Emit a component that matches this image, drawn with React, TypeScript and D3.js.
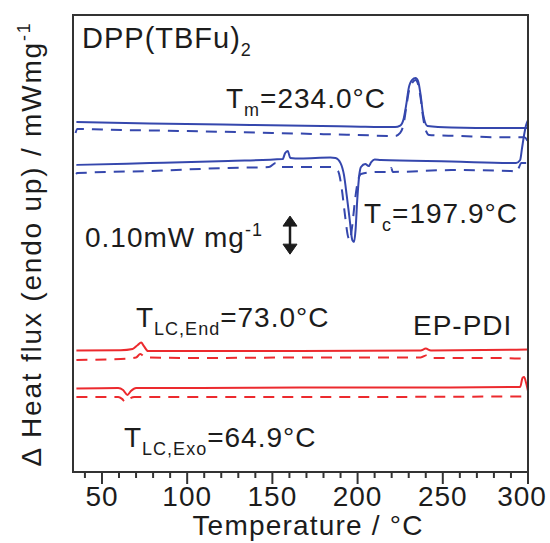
import * as d3 from 'd3';

// temperature axis
const tempTicks = [50, 100, 150, 200, 250, 300];
const minorTicks = [40, 60, 70, 80, 90, 110, 120, 130, 140, 160, 170, 180, 190, 210, 220, 230, 240, 260, 270, 280, 290];

// DPP(TBFu)2 heating / cooling traces, [T (°C), heat flux (offset)]
const dppHeatSolid: [number, number][] = [
  [35, 1.149], [78, 1.144], [137, 1.139], [196, 1.134], [222, 1.132], [225, 1.137], [227, 1.159],
  [228.5, 1.204], [230, 1.26], [232, 1.287], [234, 1.293], [235.5, 1.283], [237, 1.237], [238.5, 1.172],
  [241, 1.136], [255, 1.131], [284, 1.129], [300, 1.129],
];
const dppHeatDash: [number, number][] = [
  [34.5, 1.113], [35.5, 1.126], [37, 1.126], [50, 1.124], [100, 1.119], [150, 1.113], [200, 1.106],
  [222, 1.103], [225, 1.113], [227, 1.142], [228.5, 1.195], [230, 1.247], [232, 1.277], [234, 1.287],
  [235.5, 1.273], [237, 1.227], [238.5, 1.162], [240, 1.122], [242, 1.106], [260, 1.103], [280, 1.099],
  [298, 1.099], [300, 1.083],
];
const dppCoolSolid: [number, number][] = [
  [35, 1.008], [78, 1.014], [124, 1.021], [156, 1.027], [157.5, 1.047], [159, 1.054], [160.5, 1.031],
  [166.5, 1.029], [184, 1.032], [187, 1.031], [190, 1.014], [192, 0.975], [193.6, 0.909], [195.4, 0.827],
  [196.9, 0.761], [197.9, 0.755], [198.8, 0.794], [199.8, 0.893], [201, 0.975], [202, 1.001],
  [204.5, 1.011], [206.5, 1.004], [208, 1.017], [210, 1.026], [213.6, 1.024], [255, 1.019], [293, 1.014],
  [295.4, 1.024], [296.5, 1.063], [297.7, 1.106], [298.9, 1.139], [300, 1.155],
];
const dppCoolDash: [number, number][] = [
  [34.8, 0.978], [35.5, 0.981], [78, 0.988], [124, 0.998], [148, 1.001], [152, 1.014], [155, 1.001],
  [184, 1.001], [188.5, 0.988], [190.8, 0.926], [192.6, 0.843], [194.3, 0.775], [195.5, 0.761],
  [196.7, 0.801], [198.5, 0.893], [200.3, 0.958], [202, 0.978], [212, 0.985], [219, 0.985],
  [219.8, 0.998], [220.6, 0.985], [255, 0.991], [290, 0.988], [293.5, 0.985], [294.8, 1.001],
  [296, 1.014], [300, 1.014],
];

// EP-PDI traces
const epHeatSolid: [number, number][] = [
  [35, 0.399], [61, 0.4], [68, 0.404], [71, 0.417], [73, 0.425], [74.5, 0.414], [77, 0.397], [108, 0.397],
  [166, 0.397], [237, 0.399], [240, 0.405], [243, 0.399], [300, 0.402],
];
const epHeatDash: [number, number][] = [
  [35, 0.368], [61, 0.371], [70, 0.376], [72.5, 0.387], [75.5, 0.376], [108, 0.374], [166, 0.376],
  [237, 0.376], [241, 0.384], [244, 0.374], [284, 0.374], [300, 0.371],
];
const epCoolSolid: [number, number][] = [
  [35, 0.274], [59.5, 0.276], [62.4, 0.269], [64.9, 0.253], [67, 0.266], [70, 0.276], [108, 0.276],
  [166, 0.277], [254, 0.277], [295.4, 0.279], [296.8, 0.309], [297.7, 0.312], [298.9, 0.292], [300, 0.266],
];
const epCoolDash: [number, number][] = [
  [35, 0.246], [59.5, 0.246], [61.8, 0.24], [63.6, 0.23], [66, 0.24], [69, 0.246], [166, 0.246], [300, 0.248],
];

// 0.10 mW/mg scale bar, in the same offset units
const scaleBar = [0.715, 0.84];

const blue = '#3547ad';
const red = '#ec2a2e';
const ink = '#1c1c1c';
const font = "'Liberation Sans', Arial, sans-serif";

const App = () => {
  const width = 550;
  const height = 543;
  const left = 73, right = 528, top = 15, bottom = 472;

  const x = d3.scaleLinear().domain([33, 300]).range([left, right]);
  const y = d3.scaleLinear().domain([0, 1.5]).range([bottom, top]);
  const line = d3
    .line<[number, number]>()
    .x((d) => x(d[0]))
    .y((d) => y(d[1]))
    .curve(d3.curveMonotoneX);

  const traces = [
    { d: dppHeatSolid, c: blue, dash: null },
    { d: dppHeatDash, c: blue, dash: '11,8' },
    { d: dppCoolSolid, c: blue, dash: null },
    { d: dppCoolDash, c: blue, dash: '11,8' },
    { d: epHeatSolid, c: red, dash: null },
    { d: epHeatDash, c: red, dash: '11,8' },
    { d: epCoolSolid, c: red, dash: null },
    { d: epCoolDash, c: red, dash: '11,8' },
  ];

  const fs = 28;
  const ls = 1;
  const sub = 18;
  const ax = 290;
  const a0 = y(scaleBar[1]);
  const a1 = y(scaleBar[0]);

  return (
    <svg width={width} height={height} style={{ display: 'block', position: 'absolute', left: 0, top: 0 }}
      fontFamily={font} fill={ink}>
      <rect width={width} height={height} fill="#fff" />
      <defs>
        <clipPath id="plot">
          <rect x={left} y={top} width={right - left} height={bottom - top} />
        </clipPath>
      </defs>
      <g clipPath="url(#plot)">
        {traces.map((t, i) => (
          <path key={i} d={line(t.d) ?? ''} fill="none" stroke={t.c} strokeWidth={2}
            strokeDasharray={t.dash ?? undefined} strokeLinejoin="round" />
        ))}
      </g>
      <rect x={left} y={top} width={right - left} height={bottom - top} fill="none" stroke="#333" strokeWidth={2} />
      {minorTicks.map((t) => (
        <line key={t} x1={x(t)} x2={x(t)} y1={bottom} y2={bottom + 6} stroke="#333" strokeWidth={2} />
      ))}
      {tempTicks.map((t) => (
        <g key={t}>
          <line x1={x(t)} x2={x(t)} y1={bottom} y2={bottom + 12} stroke="#333" strokeWidth={2} />
          <text x={t === 300 ? x(t) - 6 : x(t)} y={506} textAnchor="middle" fontSize={fs} letterSpacing={1}>{t}</text>
        </g>
      ))}
      <text x={308} y={535} textAnchor="middle" fontSize={fs} letterSpacing={1.2}>Temperature / °C</text>
      <text transform="translate(41,244) rotate(-90)" textAnchor="middle" fontSize={fs} letterSpacing={1.8}>
        Δ Heat flux (endo up) / mWmg<tspan fontSize={sub} dy={-11}>-1</tspan>
      </text>

      <text x={82} y={48} fontSize={29} letterSpacing={1}>
        DPP(TBFu)<tspan fontSize={sub} dy={8}>2</tspan>
      </text>
      <text x={226} y={108} fontSize={fs} letterSpacing={ls}>
        T<tspan fontSize={sub} dy={8}>m</tspan><tspan dy={-8}>=234.0°C</tspan>
      </text>
      <text x={364} y={223} fontSize={fs} letterSpacing={ls}>
        T<tspan fontSize={sub} dy={8}>c</tspan><tspan dy={-8}>=197.9°C</tspan>
      </text>
      <text x={85} y={247} fontSize={fs} letterSpacing={ls}>
        0.10mW mg<tspan fontSize={sub} dy={-11}>-1</tspan>
      </text>
      <g stroke={ink} fill={ink}>
        <line x1={ax} x2={ax} y1={a0 + 8} y2={a1 - 8} strokeWidth={2.5} />
        <path d={`M${ax - 7},${a0 + 10}L${ax},${a0}L${ax + 7},${a0 + 10}Z`} strokeWidth={1} />
        <path d={`M${ax - 7},${a1 - 10}L${ax},${a1}L${ax + 7},${a1 - 10}Z`} strokeWidth={1} />
      </g>
      <text x={136} y={327} fontSize={fs} letterSpacing={ls}>
        T<tspan fontSize={sub} dy={8}>LC,End</tspan><tspan dy={-8}>=73.0°C</tspan>
      </text>
      <text x={413} y={335} fontSize={fs} letterSpacing={ls}>EP-PDI</text>
      <text x={124} y={447} fontSize={fs} letterSpacing={ls}>
        T<tspan fontSize={sub} dy={8}>LC,Exo</tspan><tspan dy={-8}>=64.9°C</tspan>
      </text>
    </svg>
  );
};

export default App;
